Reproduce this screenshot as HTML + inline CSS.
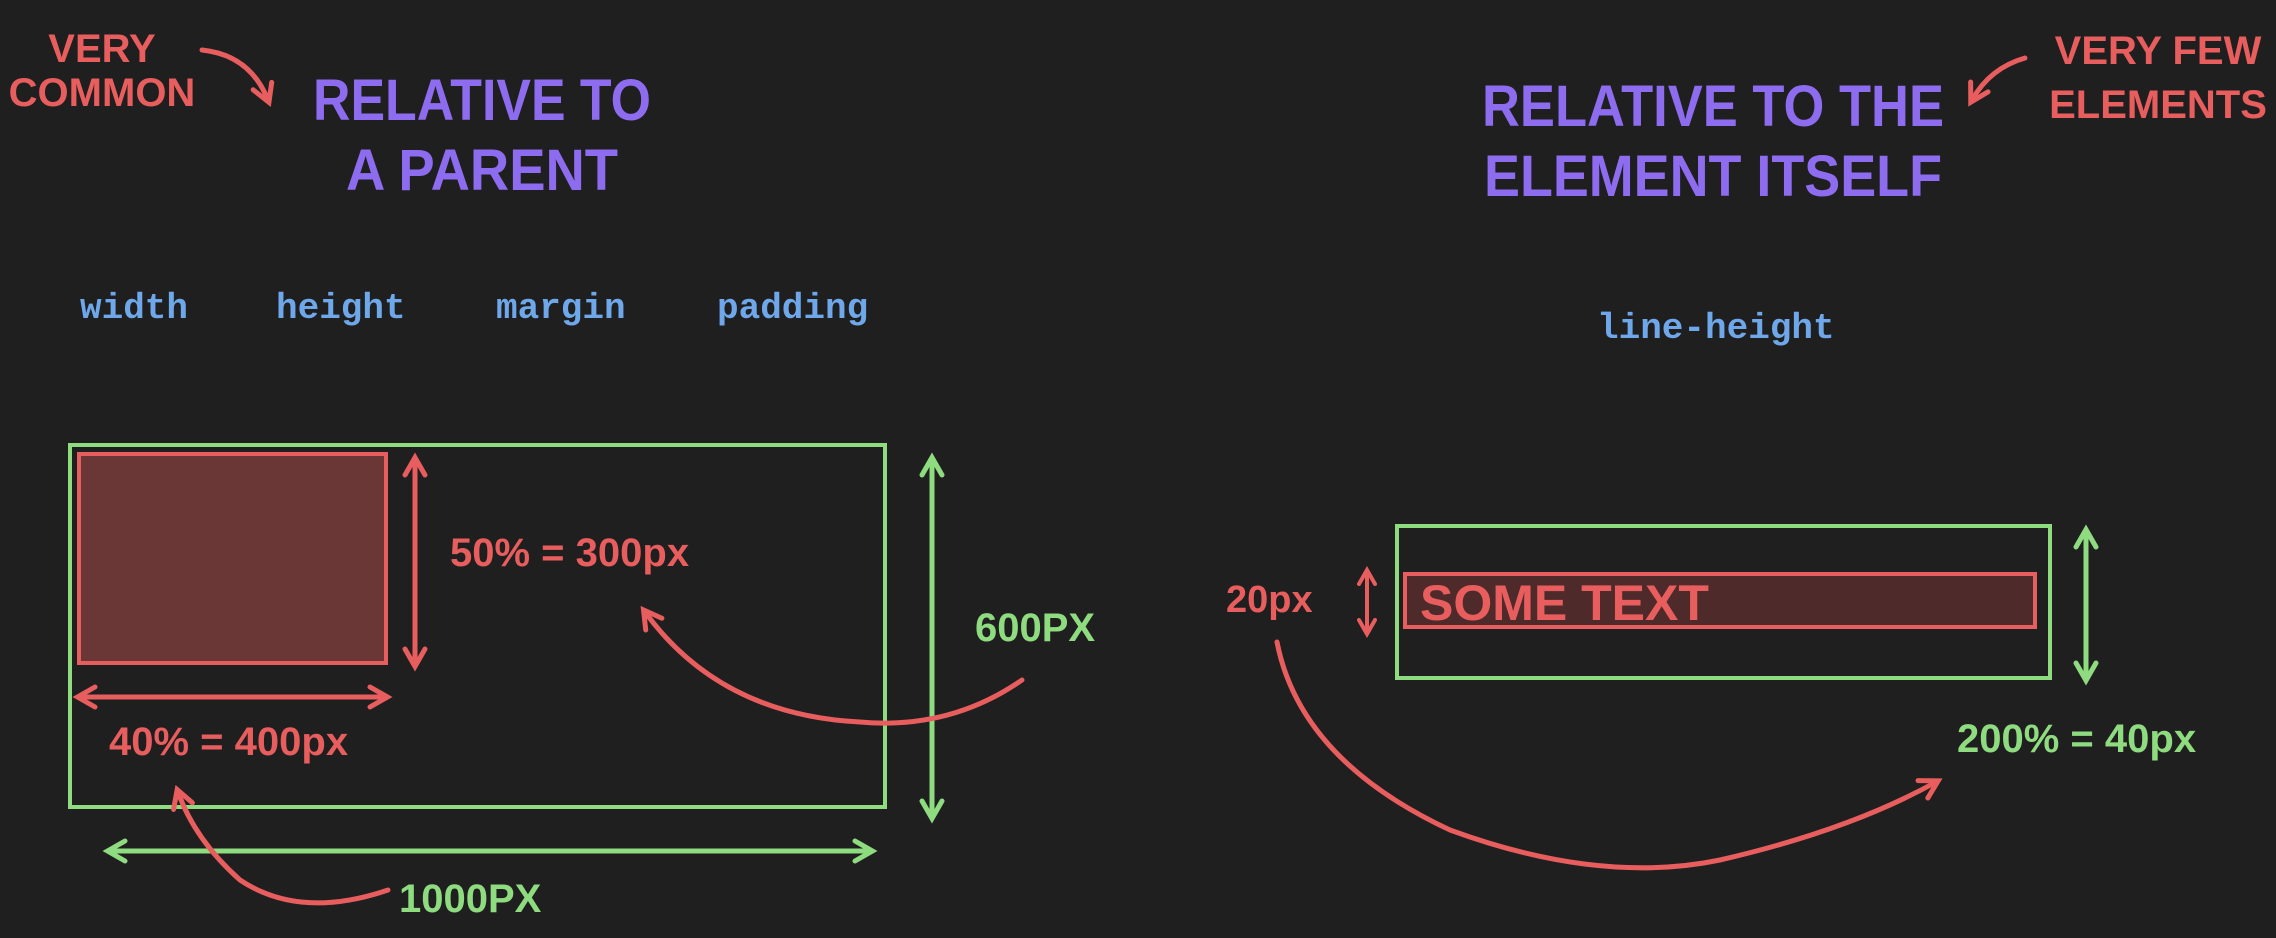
<!DOCTYPE html>
<html><head><meta charset="utf-8"><style>
html,body{margin:0;padding:0;background:#1f1f1f;}
svg{display:block}
.hand{font-family:"Liberation Sans",sans-serif;font-weight:bold;}
.mono{font-family:"Liberation Mono",monospace;font-weight:bold;}
</style></head><body>
<svg width="2276" height="938" viewBox="0 0 2276 938" xmlns="http://www.w3.org/2000/svg">
<defs>
<marker id="ar" viewBox="0 0 10 10" refX="7" refY="5" markerWidth="5" markerHeight="5" orient="auto-start-reverse"><path d="M1,1 L8,5 L1,9" fill="none" stroke="#e85d5d" stroke-width="2" stroke-linecap="round"/></marker>
<marker id="ag" viewBox="0 0 10 10" refX="7" refY="5" markerWidth="5" markerHeight="5" orient="auto-start-reverse"><path d="M1,1 L8,5 L1,9" fill="none" stroke="#8edb80" stroke-width="2" stroke-linecap="round"/></marker>
</defs>
<rect width="2276" height="938" fill="#1f1f1f"/>
<g>
<text class="hand" x="102" y="62" font-size="40" fill="#e85d5d" text-anchor="middle">VERY</text>
<text class="hand" x="102" y="106" font-size="40" fill="#e85d5d" text-anchor="middle">COMMON</text>
<path d="M202,50 Q250,55 268,100" fill="none" stroke="#e85d5d" stroke-width="5" stroke-linecap="round" marker-end="url(#ar)"/>
</g>
<g>
<text class="hand" x="482" y="120" font-size="58" fill="#8e6cf0" text-anchor="middle" textLength="338" lengthAdjust="spacingAndGlyphs">RELATIVE TO</text>
<text class="hand" x="482" y="190" font-size="58" fill="#8e6cf0" text-anchor="middle" textLength="272" lengthAdjust="spacingAndGlyphs">A PARENT</text>
</g>
<g>
<text class="hand" x="1713" y="126" font-size="58" fill="#8e6cf0" text-anchor="middle" textLength="462" lengthAdjust="spacingAndGlyphs">RELATIVE TO THE</text>
<text class="hand" x="1713" y="196" font-size="58" fill="#8e6cf0" text-anchor="middle" textLength="458" lengthAdjust="spacingAndGlyphs">ELEMENT ITSELF</text>
</g>
<g>
<text class="hand" x="2158" y="64" font-size="40" fill="#e85d5d" text-anchor="middle">VERY FEW</text>
<text class="hand" x="2158" y="118" font-size="40" fill="#e85d5d" text-anchor="middle">ELEMENTS</text>
<path d="M2025,58 Q1990,68 1972,100" fill="none" stroke="#e85d5d" stroke-width="5" stroke-linecap="round" marker-end="url(#ar)"/>
</g>
<g>
<text class="mono" x="80" y="318" font-size="36" fill="#6fa8ea">width</text>
<text class="mono" x="276" y="318" font-size="36" fill="#6fa8ea">height</text>
<text class="mono" x="496" y="318" font-size="36" fill="#6fa8ea">margin</text>
<text class="mono" x="717" y="318" font-size="36" fill="#6fa8ea">padding</text>
</g>
<text class="mono" x="1597" y="338" font-size="36" fill="#6fa8ea">line-height</text>
<g>
<rect x="70" y="445" width="815" height="362" fill="none" stroke="#8edb80" stroke-width="4"/>
<rect x="79" y="454" width="307" height="209" fill="#6b3636" stroke="#e85d5d" stroke-width="4"/>
<line x1="415" y1="460" x2="415" y2="664" stroke="#e85d5d" stroke-width="5" marker-start="url(#ar)" marker-end="url(#ar)"/>
<line x1="80" y1="697" x2="385" y2="697" stroke="#e85d5d" stroke-width="5" marker-start="url(#ar)" marker-end="url(#ar)"/>
<text class="hand" x="450" y="566" font-size="40" fill="#e85d5d">50% = 300px</text>
<text class="hand" x="109" y="755" font-size="40" fill="#e85d5d">40% = 400px</text>
<line x1="932" y1="460" x2="932" y2="816" stroke="#8edb80" stroke-width="5" marker-start="url(#ag)" marker-end="url(#ag)"/>
<text class="hand" x="975" y="641" font-size="40" fill="#8edb80">600PX</text>
<line x1="110" y1="851" x2="870" y2="851" stroke="#8edb80" stroke-width="5" marker-start="url(#ag)" marker-end="url(#ag)"/>
<text class="hand" x="399" y="912" font-size="40" fill="#8edb80">1000PX</text>
<path d="M1022,680 Q950,730 860,722 Q720,715 645,612" fill="none" stroke="#e85d5d" stroke-width="5" stroke-linecap="round" marker-end="url(#ar)"/>
<path d="M388,890 Q300,920 240,880 Q195,840 178,792" fill="none" stroke="#e85d5d" stroke-width="5" stroke-linecap="round" marker-end="url(#ar)"/>
</g>
<g>
<rect x="1397" y="526" width="653" height="152" fill="none" stroke="#8edb80" stroke-width="4"/>
<rect x="1405" y="574" width="630" height="53" fill="#4e2a2a" stroke="#e85d5d" stroke-width="4"/>
<text class="hand" x="1420" y="620" font-size="50" fill="#e85d5d">SOME TEXT</text>
<text class="hand" x="1226" y="612" font-size="38" fill="#e85d5d">20px</text>
<line x1="1367" y1="572" x2="1367" y2="632" stroke="#e85d5d" stroke-width="4" marker-start="url(#ar)" marker-end="url(#ar)"/>
<line x1="2086" y1="532" x2="2086" y2="678" stroke="#8edb80" stroke-width="5" marker-start="url(#ag)" marker-end="url(#ag)"/>
<text class="hand" x="1957" y="752" font-size="40" fill="#8edb80">200% = 40px</text>
<path d="M1277,642 Q1300,760 1450,830 Q1600,885 1720,860 Q1850,830 1936,782" fill="none" stroke="#e85d5d" stroke-width="5" stroke-linecap="round" marker-end="url(#ar)"/>
</g>
</svg>
</body></html>
